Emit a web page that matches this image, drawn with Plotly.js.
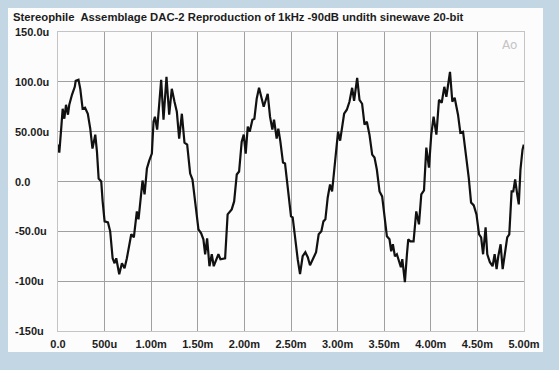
<!DOCTYPE html>
<html>
<head>
<meta charset="utf-8">
<script src="https://cdn.plot.ly/plotly-3.0.1.min.js"></script>
<style>html,body{margin:0;padding:0;background:#c3d6e3;}#chart{width:559px;height:370px;}</style>
</head>
<body>
<div id="chart"></div>
<script>
// time in ms
const timeMs = [0, 0.014, 0.036, 0.05, 0.068, 0.086, 0.107, 0.121, 0.15, 0.18, 0.19, 0.22, 0.239, 0.264, 0.29, 0.32, 0.346, 0.37, 0.4, 0.418, 0.436, 0.464, 0.479, 0.5, 0.536, 0.56, 0.586, 0.607, 0.625, 0.657, 0.686, 0.714, 0.739, 0.786, 0.814, 0.846, 0.864, 0.893, 0.907, 0.929, 0.954, 0.979, 1.007, 1.025, 1.04, 1.064, 1.086, 1.107, 1.132, 1.164, 1.193, 1.221, 1.25, 1.275, 1.3, 1.329, 1.357, 1.386, 1.418, 1.443, 1.471, 1.507, 1.536, 1.56, 1.579, 1.6, 1.625, 1.65, 1.671, 1.7, 1.721, 1.743, 1.793, 1.82, 1.846, 1.864, 1.89, 1.918, 1.943, 1.971, 1.993, 2.014, 2.036, 2.057, 2.086, 2.107, 2.132, 2.157, 2.186, 2.207, 2.25, 2.275, 2.3, 2.318, 2.346, 2.364, 2.386, 2.414, 2.436, 2.471, 2.5,
  2.518, 2.547, 2.572, 2.597, 2.625, 2.654, 2.68, 2.704, 2.733, 2.769, 2.797, 2.826, 2.848, 2.869, 2.894, 2.919, 2.941, 2.966, 2.984, 3.005, 3.027, 3.048, 3.07, 3.099, 3.127, 3.156, 3.177, 3.21, 3.235, 3.263, 3.289, 3.314, 3.342, 3.371, 3.396, 3.421, 3.45, 3.478, 3.504, 3.529, 3.557, 3.575, 3.593, 3.615, 3.636, 3.658, 3.679, 3.694, 3.722, 3.744, 3.758, 3.78, 3.815, 3.844, 3.873, 3.898, 3.927, 3.952, 3.98, 4.005, 4.03, 4.06, 4.088, 4.117, 4.145, 4.167, 4.185, 4.206, 4.231, 4.256, 4.292, 4.317, 4.346, 4.382, 4.407, 4.432, 4.461, 4.49, 4.518, 4.54, 4.561, 4.588, 4.606, 4.634, 4.663, 4.685, 4.706, 4.724, 4.749, 4.771, 4.796, 4.82, 4.842, 4.867, 4.885, 4.905, 4.927, 4.944, 4.962, 4.984, 4.998];
// amplitude in microvolts (u)
const amplitudeU = [37, 29, 55, 73, 63, 77, 67, 77, 87, 95, 101, 102, 93, 73, 74, 68, 53, 33, 47, 30, 3, 0, -20, -40, -41, -50, -77, -82, -77, -93, -82, -87, -77, -53, -56, -30, -38, -15, 1, -13, 13, 21, 28, 60, 65, 52, 83, 102, 62, 105, 67, 93, 80, 70, 43, 68, 39, 37, 8, 2, -20, -48, -52, -58, -73, -57, -85, -73, -85, -77, -73, -78, -77, -33, -30, -28, -20, 7, 10, 40, 47, 28, 55, 50, 62, 63, 83, 94, 83, 75, 88, 65, 52, 62, 43, 53, 40, 19, 18, -10, -35,
  -36, -60, -78, -93, -75, -71, -76, -84, -78, -71, -53, -50, -40, -38, -16, -3, -10, 15, 30, 50, 41, 55, 68, 72, 80, 94, 81, 104, 82, 78, 57, 60, 47, 27, 24, 12, -10, -15, -33, -55, -58, -70, -63, -75, -73, -80, -86, -78, -101, -73, -58, -60, -60, -30, -43, -13, -9, 34, 14, 47, 65, 47, 82, 79, 95, 85, 97, 110, 80, 84, 67, 49, 50, 24, 4, -21, -24, -33, -53, -56, -73, -46, -73, -81, -85, -73, -88, -75, -63, -88, -70, -56, -53, -10, -10, 2, -13, -23, 12, 32, 37];

const xTickVals = [0, 0.5, 1, 1.5, 2, 2.5, 3, 3.5, 4, 4.5, 5];
const xTickText = ['0.0', '500u', '1.00m', '1.50m', '2.00m', '2.50m', '3.00m', '3.50m', '4.00m', '4.50m', '5.00m'];
const yTickVals = [150, 100, 50, 0, -50, -100, -150];
const yTickText = ['150.0u', '100.0u', '50.00u', '0.0', '-50.0u', '-100u', '-150u'];
const titleText = 'Stereophile\u00A0 Assemblage DAC-2 Reproduction of 1kHz -90dB undith sinewave 20-bit';

const boldFont = {family: 'Liberation Sans, Arial, sans-serif', size: 11, weight: 'bold', color: '#1c1c1c'};

const trace = {
  x: timeMs, y: amplitudeU, type: 'scatter', mode: 'lines',
  line: {color: '#111111', width: 2.2}, hoverinfo: 'skip'
};

const annotations = yTickVals.map((v, i) => ({
  xref: 'paper', yref: 'y', x: -0.0966, y: v, xanchor: 'left', yanchor: 'middle',
  text: yTickText[i], showarrow: false, font: boldFont
}));
annotations.push({
  xref: 'paper', yref: 'paper', x: 0.968, y: 0.957, xanchor: 'center', yanchor: 'middle',
  text: 'Ao', showarrow: false, font: {family: 'DejaVu Sans, sans-serif', size: 12, color: '#c4c4c4'}
});

const layout = {
  width: 559, height: 370,
  margin: {l: 58, r: 35, t: 32, b: 39, pad: 0},
  paper_bgcolor: '#c3d6e3',
  plot_bgcolor: '#ffffff',
  showlegend: false,
  title: {
    text: titleText, font: Object.assign({}, boldFont, {size: 11.3}),
    xref: 'container', yref: 'container', x: 13/559, y: 1 - 17/370,
    xanchor: 'left', yanchor: 'middle'
  },
  xaxis: {
    range: [0, 5], tickvals: xTickVals, ticktext: xTickText, ticks: '',
    showgrid: true, gridcolor: '#a0a0a0', gridwidth: 1, zeroline: false,
    showline: true, linecolor: '#c4c4c4', linewidth: 1, mirror: true,
    tickfont: boldFont, ticklabelstandoff: 3, fixedrange: true
  },
  yaxis: {
    range: [-150, 150], tickvals: yTickVals, showticklabels: false, ticks: '',
    showgrid: true, gridcolor: '#a0a0a0', gridwidth: 1, zeroline: false,
    showline: true, linecolor: '#c4c4c4', linewidth: 1, mirror: true,
    fixedrange: true
  },
  shapes: [{
    type: 'rect', xref: 'paper', yref: 'paper', layer: 'below',
    x0: -0.1073, x1: 1.0408, y0: -0.0702, y1: 1.0803,
    fillcolor: '#fcfcfc', line: {width: 0}
  }],
  annotations: annotations
};

Plotly.newPlot('chart', [trace], layout, {displayModeBar: false, staticPlot: true});
</script>
</body>
</html>
